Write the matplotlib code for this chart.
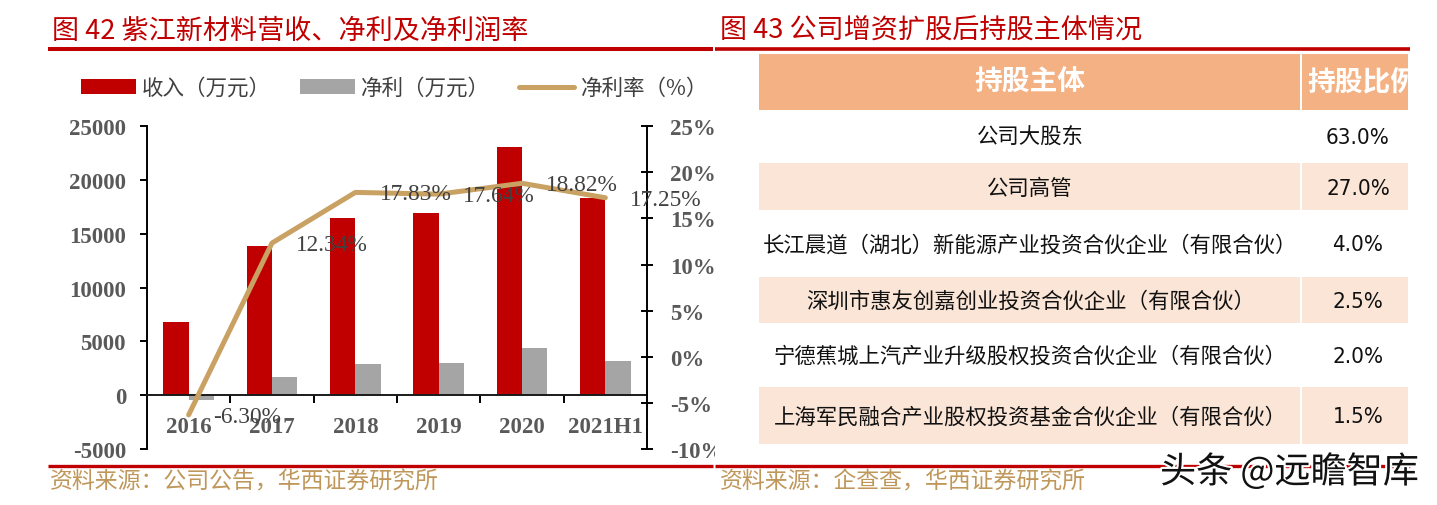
import numpy as np
import matplotlib
matplotlib.use('Agg')
import matplotlib.pyplot as plt
from matplotlib import font_manager as fm
from matplotlib.patches import Rectangle
import matplotlib.patheffects as pe

# ---------------- data ----------------
categories = ['2016', '2017', '2018', '2019', '2020', '2021H1']
revenue = [6800, 13850, 16450, 16950, 23100, 18350]          # 万元
net_profit = [-430, 1710, 2930, 2990, 4350, 3170]            # 万元
net_margin = [-6.30, 12.34, 17.83, 17.64, 18.82, 17.25]      # %
left_ticks = [-5000, 0, 5000, 10000, 15000, 20000, 25000]
left_tick_labels = ['-5000', '0', '5000', '10000', '15000', '20000', '25000']
right_ticks = [-10, -5, 0, 5, 10, 15, 20, 25]
right_tick_labels = ['-10%', '-5%', '0%', '5%', '10%', '15%', '20%', '25%']
legend_labels = ['收入（万元）', '净利（万元）', '净利率（%）']

table_header = ['持股主体', '持股比例']
holders = ['公司大股东', '公司高管',
           '长江晨道（湖北）新能源产业投资合伙企业（有限合伙）',
           '深圳市惠友创嘉创业投资合伙企业（有限合伙）',
           '宁德蕉城上汽产业升级股权投资合伙企业（有限合伙）',
           '上海军民融合产业股权投资基金合伙企业（有限合伙）']
shares = ['63.0%', '27.0%', '4.0%', '2.5%', '2.0%', '1.5%']

title_left = '图 42 紫江新材料营收、净利及净利润率'
title_right = '图 43 公司增资扩股后持股主体情况'
source_left = '资料来源：公司公告，华西证券研究所'
source_right = '资料来源：企查查，华西证券研究所'
watermark = '头条 @远瞻智库'

# ---------------- style ----------------
plt.rcParams['font.family'] = ['Noto Sans CJK SC', 'DejaVu Sans']
plt.rcParams['axes.unicode_minus'] = False
RED = '#C00000'
BAR_RED = '#C00000'
BAR_GRAY = '#A5A5A5'
LINE_TAN = '#C9A163'
GOLD = '#C0975A'
HEADER = '#F4B183'
BAND = '#FBE5D6'
SERIF = 'Liberation Serif'
TICK_GRAY = '#595959'

names = {f.name for f in fm.fontManager.ttflist}
if 'Liberation Sans Narrow' in names:
    val_prop = dict(family='Liberation Sans Narrow', fontsize=18)
elif any(f.name == 'DejaVu Sans' and 'condensed' in str(f.stretch) for f in fm.fontManager.ttflist):
    val_prop = dict(family='DejaVu Sans', fontstretch='condensed', fontsize=16)
else:
    val_prop = dict(family='Liberation Sans', fontsize=15)

W, H = 1437, 506
fig = plt.figure(figsize=(W / 100, H / 100), dpi=100)
fig.patch.set_facecolor('white')

def fx(px):
    return px / W

def fy(py):
    return 1 - py / H

# ---------------- left canvas ----------------
cv = fig.add_axes([0, 0, 1, 1])
cv.set_xlim(0, W)
cv.set_ylim(H, 0)
cv.axis('off')
cv.set_zorder(0)
cv.text(51.7, 31, title_left, color=RED, fontsize=19.5, va='center', ha='left')
cv.plot([48, 712.7], [49.7, 49.7], color=RED, lw=2.9, solid_capstyle='butt')
cv.plot([48, 712.7], [466.7, 466.7], color=RED, lw=2.4, solid_capstyle='butt')
cv.text(49.5, 482, source_left, color=GOLD, fontsize=16.5, va='center', ha='left')

# ---------------- chart ----------------
ax = fig.add_axes([fx(147), fy(450), 500 / W, (450 - 127.3) / H])
ax.set_zorder(1)
ax.patch.set_visible(False)
ax2 = ax.twinx()
ax2.set_zorder(2)
ax2.patch.set_visible(False)

ax.spines['top'].set_visible(False)
ax.spines['right'].set_visible(False)
ax.spines['bottom'].set_position(('data', 0))
ax.spines['bottom'].set_linewidth(1.4)
ax.spines['bottom'].set_color('#1a1a1a')
ax.spines['left'].set_linewidth(1.4)
ax.spines['left'].set_color('#000000')
for s in ['top', 'left', 'bottom']:
    ax2.spines[s].set_visible(False)
ax2.spines['right'].set_linewidth(1.4)
ax2.spines['right'].set_color('#000000')

x = np.arange(len(categories))
w = 0.305
b1 = ax.bar(x - w / 2, revenue, w, color=BAR_RED, zorder=2)
b2 = ax.bar(x + w / 2, net_profit, w, color=BAR_GRAY, zorder=2)
ax.set_xlim(-0.5, len(categories) - 0.5)
ax.set_ylim(left_ticks[0], left_ticks[-1])
ax.set_yticks(left_ticks)
ax.set_yticklabels(left_tick_labels, family=SERIF, fontweight='bold', fontsize=16.5, color=TICK_GRAY)
ax.set_xticks(x[:-1] + 0.5, minor=True)
ax.set_xticks(x)
ax.set_xticklabels(categories, family=SERIF, fontweight='bold', fontsize=16.5, color=TICK_GRAY)
ax.tick_params(axis='x', which='major', length=0, pad=15)
ax.tick_params(axis='x', which='minor', length=5.5, width=1.4, direction='out', color='#000000')
ax.tick_params(axis='y', length=4.8, width=1.4, direction='out', pad=10.3, color='#000000')

ln, = ax2.plot(x, net_margin, color=LINE_TAN, lw=3.6, solid_capstyle='round',
               solid_joinstyle='round', zorder=3)
ax2.set_ylim(right_ticks[0], right_ticks[-1])
ax2.set_yticks(right_ticks)
ax2.set_yticklabels(right_tick_labels, family=SERIF, fontweight='bold', fontsize=16.5, color=TICK_GRAY)
ax2.tick_params(axis='y', length=8.5, width=1.4, direction='inout', pad=12.3, color='#000000')
for xi, v in zip(x, net_margin):
    ax2.annotate(f'{v:.2f}%', (xi, v), xytext=(17.5, -1), textcoords='offset points',
                 ha='left', va='center', family=SERIF, fontsize=16.8, color='#404040',
                 annotation_clip=False, zorder=4)

fig.legend(handles=[b1, b2, ln], labels=legend_labels, loc='center left',
           bbox_to_anchor=(fx(81), fy(89)), ncol=3, frameon=False, fontsize=15.5,
           handlelength=2.55, handleheight=0.67, handletextpad=0.29,
           columnspacing=1.35, borderpad=0, borderaxespad=0, labelcolor='#404040')

# ---------------- right panel ----------------
rp = fig.add_axes([fx(715), 0, (W - 715) / W, 1])
rp.set_xlim(715, W)
rp.set_ylim(H, 0)
rp.set_zorder(10)
rp.set_xticks([])
rp.set_yticks([])
for s in rp.spines.values():
    s.set_visible(False)
rp.set_facecolor('white')

rp.text(720, 31, title_right, color=RED, fontsize=19.5, va='center', ha='left')
rp.plot([715, 1410], [50, 50], color=RED, lw=2.6, solid_capstyle='butt')
rp.plot([715, 1410], [466.7, 466.7], color=RED, lw=2.4, solid_capstyle='butt')
rp.text(720, 482, source_right, color=GOLD, fontsize=16.5, va='center', ha='left')

tx0, tsep, tx1 = 759.3, 1301, 1408
row_edges = [55, 110.7, 163.3, 211.7, 276.7, 325, 386.7, 446]
# header
rp.add_patch(Rectangle((tx0, row_edges[0]), tsep - 1 - tx0, row_edges[1] - row_edges[0],
                       facecolor=HEADER, edgecolor='none'))
hdr2 = Rectangle((tsep + 1, row_edges[0]), tx1 - tsep - 1, row_edges[1] - row_edges[0],
                 facecolor=HEADER, edgecolor='none')
rp.add_patch(hdr2)
hy = (row_edges[0] + row_edges[1]) / 2
rp.text((tx0 + tsep) / 2, hy, table_header[0], color='white', fontsize=20,
        fontweight='bold', ha='center', va='center')
t2 = rp.text(1307, hy, table_header[1], color='white', fontsize=20,
             fontweight='bold', ha='left', va='center')
t2.set_clip_path(hdr2)

for i, (name, val) in enumerate(zip(holders, shares)):
    top, bot = row_edges[i + 1], row_edges[i + 2]
    if i % 2 == 1:
        rp.add_patch(Rectangle((tx0, top + 1), tsep - 1 - tx0, bot - top - 2,
                               facecolor=BAND, edgecolor='none'))
        rp.add_patch(Rectangle((tsep + 1, top + 1), tx1 - tsep - 1, bot - top - 2,
                               facecolor=BAND, edgecolor='none'))
    cy = (top + bot) / 2 + 1
    rp.text((tx0 + tsep) / 2, cy, name, color='#111111', fontsize=15.4,
            ha='center', va='center')
    rp.text(1358, cy, val, color='#111111', ha='center', va='center', **val_prop)

rp.text(1160, 473, watermark, color='#111111', fontsize=26, ha='left', va='center',
        path_effects=[pe.withStroke(linewidth=3, foreground='white')], zorder=5)

fig.savefig('out.png', dpi=100, facecolor='white')
